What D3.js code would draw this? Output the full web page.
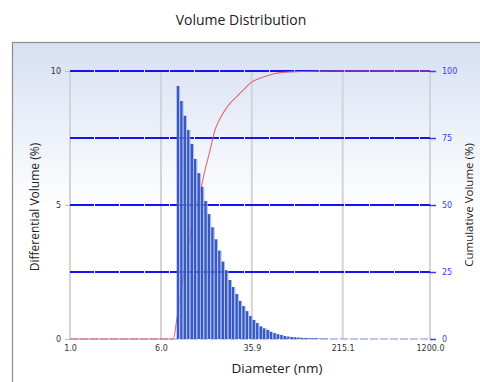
<!DOCTYPE html>
<html>
<head>
<meta charset="utf-8">
<script src="https://cdn.jsdelivr.net/npm/d3@7"></script>
<style>
  html, body { margin: 0; padding: 0; background: #fff; }
  svg { display: block; }
  text { font-family: "DejaVu Sans", Verdana, sans-serif; }
</style>
</head>
<body>
<svg id="chart" width="480" height="382"></svg>
<script>
// Size bins (lower edges, nm) of the volume distribution
const binEdges = [8.18, 8.755, 9.370, 10.029, 10.734, 11.489, 12.296, 13.161, 14.086, 15.076,
  16.136, 17.270, 18.484, 19.783, 21.174, 22.662, 24.255, 25.960, 27.785, 29.738,
  31.829, 34.066, 36.461, 39.024, 41.767, 44.703, 47.846, 51.209, 54.809, 58.662,
  62.786, 67.200, 71.924, 76.981, 82.393, 88.185, 94.384, 101.02, 108.12, 115.72,
  123.86, 132.57, 141.89, 151.86, 162.54];

// Differential volume (%) per bin
const diffVolume = [9.44, 8.88, 8.33, 7.80, 7.28, 6.72, 6.19, 5.68, 5.15, 4.66,
  4.17, 3.72, 3.30, 2.89, 2.57, 2.20, 1.94, 1.68, 1.42, 1.23,
  1.04, 0.86, 0.71, 0.60, 0.47, 0.40, 0.34, 0.27, 0.22, 0.18,
  0.15, 0.11, 0.09, 0.075, 0.065, 0.055, 0.045, 0.04, 0.035, 0.03,
  0.025, 0.02, 0.015, 0.01];

// Cumulative volume (%) curve
const cumDiameter = [1.0, 7.65, 8.18, 9.44, 11.34, 13.38, 14.28, 15.54, 17.39, 18.92, 21.17, 23.36, 26.66, 30.36, 34.63, 42.19, 54.82, 62.55, 92.74, 167.4, 1200];
const cumVolume   = [0,   0,    7.1,  24.6, 45.1,  57.5,  63.1,  69.3,  78.0,  81.7,  85.4,  87.9,  90.4,  92.9,  95.4,  97.3,  98.9,  99.4,  99.8,  100,   100];

// Axis ticks
const xTicks = [1.0, 6.0, 35.9, 215.1, 1200.0];
const yTicks = [0, 5, 10];
const yGrid = [2.5, 5, 7.5, 10];
const y2Ticks = [0, 25, 50, 75, 100];

const svg = d3.select("#chart");

const x = d3.scaleLog().domain([1, 1200]).range([70, 430]);
const y = d3.scaleLinear().domain([0, 10]).range([339, 71]);
const y2 = d3.scaleLinear().domain([0, 100]).range([339, 71]);

// Panel background with a soft blue-to-white fade
const defs = svg.append("defs");
const grad = defs.append("linearGradient").attr("id", "panelFade")
  .attr("x1", 0).attr("y1", 0).attr("x2", 0).attr("y2", 1);
grad.append("stop").attr("offset", "0%").attr("stop-color", "#d7e0f2");
grad.append("stop").attr("offset", "42%").attr("stop-color", "#ffffff");
grad.append("stop").attr("offset", "100%").attr("stop-color", "#ffffff");

svg.append("rect")
  .attr("x", 12.5).attr("y", 42.5).attr("width", 520).attr("height", 400)
  .attr("fill", "url(#panelFade)")
  .attr("stroke", "#8c8c8c").attr("stroke-width", 1.2);

// Title
svg.append("text")
  .attr("x", 241).attr("y", 25)
  .attr("text-anchor", "middle")
  .attr("font-size", 14).attr("fill", "#222")
  .style("font-family", "'Open Sans', 'DejaVu Sans', sans-serif")
  .text("Volume Distribution");

// Vertical grid lines at the x ticks
svg.append("g").selectAll("line").data(xTicks).join("line")
  .attr("x1", d => x(d)).attr("x2", d => x(d))
  .attr("y1", y(10)).attr("y2", y(0))
  .attr("stroke", "#d3d4d8").attr("stroke-width", 2);

// Baseline at zero
svg.append("line")
  .attr("x1", x(1)).attr("x2", x(1200))
  .attr("y1", y(0)).attr("y2", y(0))
  .attr("stroke", "#7c8ee6").attr("stroke-width", 1)
  .attr("stroke-dasharray", "8,2");

// Horizontal grid lines
svg.append("g").selectAll("line").data(yGrid).join("line")
  .attr("x1", x(1)).attr("x2", x(1200))
  .attr("y1", d => y(d)).attr("y2", d => y(d))
  .attr("stroke", "#1414f0").attr("stroke-width", 1.8)
  .attr("stroke-dasharray", "24,1");

// Cumulative curve (sits behind the bars)
const cumPoints = cumDiameter.map((d, i) => [d, cumVolume[i]]);
svg.append("path")
  .datum(cumPoints)
  .attr("fill", "none")
  .attr("stroke", "#e2566e").attr("stroke-width", 1.1).attr("stroke-opacity", 0.9)
  .attr("d", d3.line().x(d => x(d[0])).y(d => y2(d[1])).curve(d3.curveMonotoneX));

// Differential volume bars
const bars = svg.append("g");
diffVolume.forEach((v, i) => {
  const x0 = x(binEdges[i]);
  const x1 = x(binEdges[i + 1]);
  bars.append("rect")
    .attr("x", x0).attr("y", y(v))
    .attr("width", Math.max(0, x1 - x0 - 0.9)).attr("height", y(0) - y(v))
    .attr("fill", "#3659c6");
  bars.append("rect")
    .attr("x", x1 - 0.9).attr("y", y(v))
    .attr("width", 0.9).attr("height", y(0) - y(v))
    .attr("fill", "#a9b8e6");
});

// Left axis
const leftAxis = svg.append("g")
  .attr("transform", `translate(${x(1)},0)`)
  .call(d3.axisLeft(y).tickValues(yTicks).tickSize(5).tickPadding(4).tickFormat(d3.format("d")));
leftAxis.select(".domain").remove();
leftAxis.selectAll("line").attr("stroke", "#b8bcc8");
leftAxis.selectAll("text").attr("font-size", 8).attr("fill", "#333")
  .style("font-family", "'DejaVu Sans', Verdana, sans-serif");

// Right axis (cumulative)
const rightAxis = svg.append("g")
  .attr("transform", `translate(${x(1200)},0)`)
  .call(d3.axisRight(y2).tickValues(y2Ticks).tickSize(6).tickPadding(6).tickFormat(d3.format("d")));
rightAxis.select(".domain").remove();
rightAxis.selectAll("line").attr("stroke", "#3a3af0").attr("stroke-width", 1.5);
rightAxis.selectAll("text").attr("font-size", 8).attr("fill", "#3c3cf2")
  .style("font-family", "'DejaVu Sans', Verdana, sans-serif");

// Bottom axis
const bottomAxis = svg.append("g")
  .attr("transform", `translate(0,${y(0)})`)
  .call(d3.axisBottom(x).tickValues(xTicks).tickSize(0).tickPadding(6).tickFormat(d3.format(".1f")));
bottomAxis.select(".domain").remove();
bottomAxis.selectAll("text").attr("font-size", 8).attr("fill", "#333")
  .style("font-family", "'DejaVu Sans', Verdana, sans-serif");

// Axis titles
svg.append("text")
  .attr("x", 277).attr("y", 373)
  .attr("text-anchor", "middle")
  .attr("font-size", 13.5).attr("fill", "#222")
  .style("font-family", "'Open Sans', 'DejaVu Sans', sans-serif")
  .text("Diameter (nm)");

svg.append("text")
  .attr("transform", "translate(39,207) rotate(-90)")
  .attr("text-anchor", "middle")
  .attr("font-size", 12).attr("fill", "#222")
  .style("font-family", "'Open Sans', 'DejaVu Sans', sans-serif")
  .text("Differential Volume (%)");

svg.append("text")
  .attr("transform", "translate(473,205) rotate(-90)")
  .attr("text-anchor", "middle")
  .attr("font-size", 11.5).attr("fill", "#222")
  .style("font-family", "'Open Sans', 'DejaVu Sans', sans-serif")
  .text("Cumulative Volume (%)");
</script>
</body>
</html>
